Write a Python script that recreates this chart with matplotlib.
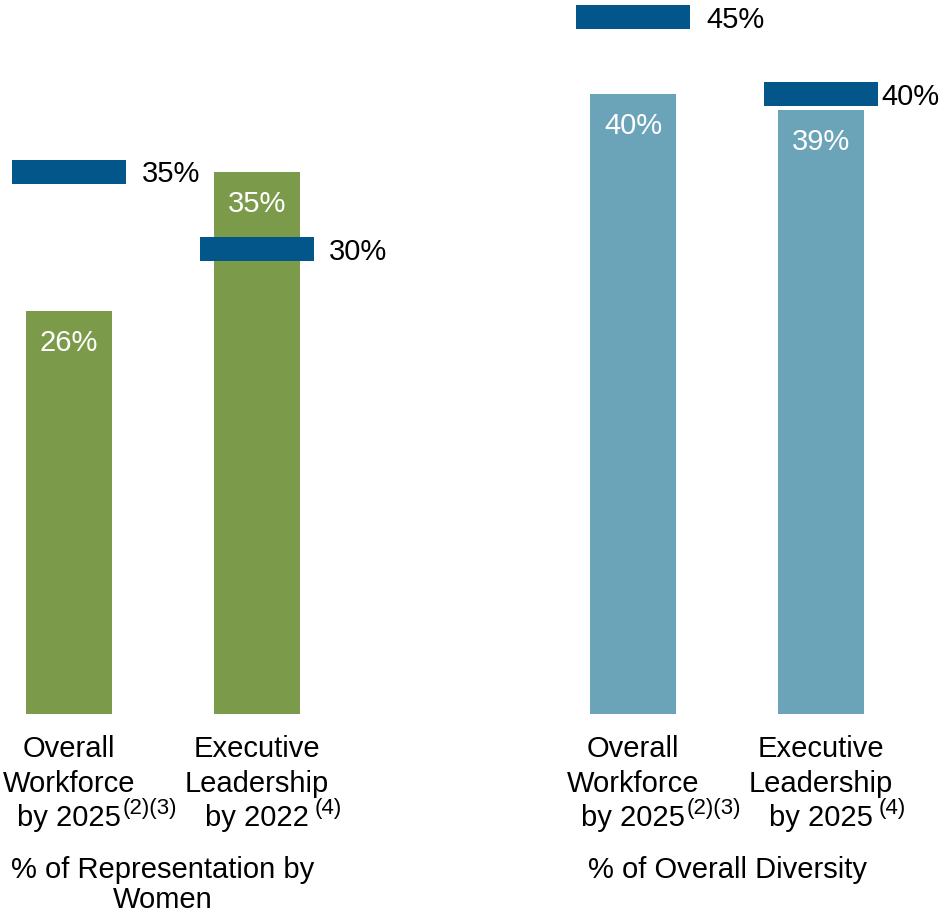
import matplotlib.pyplot as plt

plt.rcParams['font.family'] = ['Liberation Sans', 'DejaVu Sans']

# data
cat_lines = [
    ["Overall", "Workforce", "by 2025"],
    ["Executive", "Leadership", "by 2022"],
    ["Overall", "Workforce", "by 2025"],
    ["Executive", "Leadership", "by 2025"],
]
footnotes = ["(2)(3)", "(4)", "(2)(3)", "(4)"]
actual = [26, 35, 40, 39]
targets = [35, 30, 45, 40]
group_lines = [["% of Representation by", "Women"], ["% of Overall Diversity"]]

green = "#7b9a4a"
light_blue = "#6ba4b8"
dark_blue = "#03568a"
bar_colors = [green, green, light_blue, light_blue]

xpos = [0, 1, 3, 4]
group_x = [0.5, 3.5]
px_per_unit = 15.5  # pixels per percentage point
base_px = 714       # baseline pixel row from top
fs = 21

fig = plt.figure(figsize=(9.48, 9.14), dpi=100)
ax = fig.add_axes([0, 0, 1, 1])
ax.set_xlim(-69 / 188, (948 - 69) / 188)
ax.set_ylim(-(914 - base_px) / px_per_unit, base_px / px_per_unit)
ax.axis("off")


def y_of(px):
    return (base_px - px) / px_per_unit


ax.bar(xpos, actual, width=0.457, color=bar_colors)

mk_h = 24 / px_per_unit
ax.bar(xpos, [mk_h] * 4, bottom=[t - mk_h / 2 for t in targets],
       width=0.61, color=dark_blue)

label_gap = [16, 15, 16, 3]
for x, v, t, g in zip(xpos, actual, targets, label_gap):
    ax.annotate(f"{v}%", xy=(x, v), xytext=(0, -40 * 0.72),
                textcoords="offset points", ha="center", va="baseline",
                color="white", fontsize=fs)
    ax.annotate(f"{t}%", xy=(x + 0.305, t), xytext=(g * 0.72, -11 * 0.72),
                textcoords="offset points", ha="left", va="baseline",
                color="black", fontsize=fs)

line_px = [757, 792, 826]
sup_gap = [1, 4, 1, 4]
for x, lines, fn, sg in zip(xpos, cat_lines, footnotes, sup_gap):
    t = None
    for ln, p in zip(lines, line_px):
        t = ax.text(x, y_of(p), ln, ha="center", va="baseline", fontsize=fs)
    ax.annotate(fn, xy=(1, 0), xycoords=t, xytext=(sg, 13),
                textcoords="offset points", ha="left", va="baseline",
                fontsize=16)

for gx, lines in zip(group_x, group_lines):
    for ln, p in zip(lines, [878, 908]):
        ax.text(gx, y_of(p), ln, ha="center", va="baseline", fontsize=fs)

fig.savefig("out.png", dpi=100)
